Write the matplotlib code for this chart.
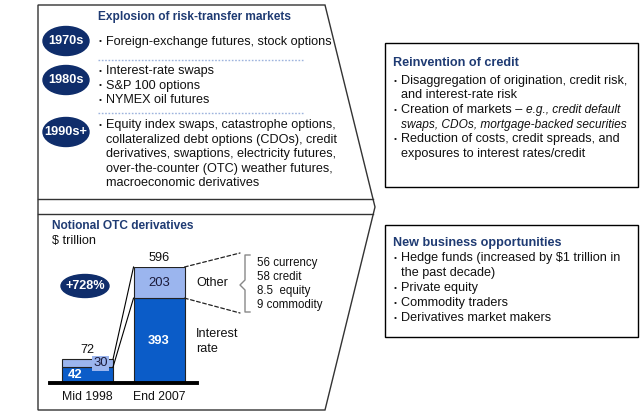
"""Risk-transfer markets infographic with notional OTC derivatives bar chart."""
import numpy as np
import matplotlib

matplotlib.use("Agg")
import matplotlib.pyplot as plt
from matplotlib.patches import ConnectionPatch, Ellipse, Polygon, Rectangle

plt.rcParams["font.family"] = ["Liberation Sans", "DejaVu Sans"]
FS = 9.1          # body text
FS_ITALIC = 8.6   # italic examples
FS_SMALL = 8.3    # breakdown list
FS_TITLE_L = 8.6  # left panel titles
FS_TITLE_R = 9.1  # right box titles

NAVY = "#0F2D6B"
TITLE = "#1F3B73"
DARK_BLUE = "#0B5CC8"
LIGHT_BLUE = "#9BB5EE"
TEXT = "#111111"

# --- data -------------------------------------------------------------------
PERIODS = ["Mid 1998", "End 2007"]
INTEREST_RATE = [42, 393]
OTHER = [30, 203]
TOTALS = [72, 596]
GROWTH = "+728%"
OTHER_BREAKDOWN = ["56 currency", "58 credit", "8.5  equity", "9 commodity"]

ERA_LABELS = ["1970s", "1980s", "1990s+"]
ERA_ITEMS = [
    [["Foreign-exchange futures, stock options"]],
    [["Interest-rate swaps"], ["S&P 100 options"], ["NYMEX oil futures"]],
    [[
        "Equity index swaps, catastrophe options,",
        "collateralized debt options (CDOs), credit",
        "derivatives, swaptions, electricity futures,",
        "over-the-counter (OTC) weather futures,",
        "macroeconomic derivatives",
    ]],
]

CREDIT_TITLE = "Reinvention of credit"
CREDIT_ITEMS = [
    ["Disaggregation of origination, credit risk,", "and interest-rate risk"],
    [("Creation of markets \u2013 ", "e.g., credit default"), "swaps, CDOs, mortgage-backed securities"],
    ["Reduction of costs, credit spreads, and", "exposures to interest rates/credit"],
]

BUSINESS_TITLE = "New business opportunities"
BUSINESS_ITEMS = [
    ["Hedge funds (increased by \\$1 trillion in", "the past decade)"],
    ["Private equity"],
    ["Commodity traders"],
    ["Derivatives market makers"],
]

fig = plt.figure(figsize=(6.4, 4.15), dpi=100)
ov = fig.add_axes([0, 0, 1, 1])
ov.set_xlim(0, 640)
ov.set_ylim(415, 0)
ov.axis("off")


def txt(x, y, s, **kw):
    kw.setdefault("fontsize", FS)
    kw.setdefault("color", TEXT)
    kw.setdefault("va", "center")
    return ov.text(x, y, s, **kw)


def bullet_block(x, y, items, step=14.5):
    """Draw bulleted items; wrapped lines indented under the first."""
    for item in items:
        ov.text(x, y, "\u2022", fontsize=6, color=TEXT, va="center")
        for j, line in enumerate(item):
            if isinstance(line, tuple):
                t1 = txt(x + 7, y + 6, line[0], va="bottom")
                ov.annotate(line[1], xy=(1, 0), xycoords=t1, fontsize=FS_ITALIC,
                            color=TEXT, style="italic", va="bottom", ha="left")
            elif j == 1 and isinstance(item[0], tuple):
                txt(x + 7, y, line, style="italic", fontsize=FS_ITALIC)
            else:
                txt(x + 7, y, line)
            y += step
    return y


# --- left chevron frame ------------------------------------------------------
ov.add_patch(Polygon([(38, 5), (325, 5), (375, 207), (325, 410), (38, 410)],
                     closed=True, fill=False, ec="#333333", lw=1))
ov.plot([38, 373], [199, 199], color="#333333", lw=1)
ov.plot([38, 373], [214, 214], color="#333333", lw=1)

txt(98, 17, "Explosion of risk-transfer markets", color=TITLE, weight="bold",
    fontsize=FS_TITLE_L)
era_y = [42, 71, 125]
oval_y = [41, 80, 132]
for label, items, y0, oy in zip(ERA_LABELS, ERA_ITEMS, era_y, oval_y):
    ov.add_patch(Ellipse((66, oy), 46, 29, color=NAVY))
    txt(66, oy, label, color="white", weight="bold", ha="center", fontsize=9.2)
    bullet_block(99, y0, items)
for y in (60, 113):
    ov.plot([98, 303], [y, y], color="#9DB3DD", lw=1, ls=(0, (1.2, 1.2)))

# --- right boxes -------------------------------------------------------------
ov.add_patch(Rectangle((385, 43), 253, 144, fill=False, ec="black", lw=1))
txt(393, 63, CREDIT_TITLE, color=TITLE, weight="bold", fontsize=FS_TITLE_R)
bullet_block(394, 81, CREDIT_ITEMS)

ov.add_patch(Rectangle((385, 225), 253, 112, fill=False, ec="black", lw=1))
txt(393, 243, BUSINESS_TITLE, color=TITLE, weight="bold", fontsize=FS_TITLE_R)
bullet_block(394, 258, BUSINESS_ITEMS, step=15)

# --- bar chart panel ---------------------------------------------------------
txt(52, 226, "Notional OTC derivatives", color=TITLE, weight="bold", fontsize=FS_TITLE_L)
txt(52, 241, "\\$ trillion")
ov.add_patch(Ellipse((85, 286), 48, 23, color=NAVY))
txt(85, 286, GROWTH, color="white", weight="bold", ha="center")

ax = fig.add_axes([50 / 640, (415 - 383) / 415, 147 / 640, 116 / 415])
ax.patch.set_visible(False)
ax.set_yscale("function", functions=(lambda v: np.sign(v) * np.abs(v) ** 0.75,
                                     lambda v: np.sign(v) * np.abs(v) ** (4 / 3)))
x = np.arange(len(PERIODS))
w = 0.713
ax.bar(x, INTEREST_RATE, width=w, color=DARK_BLUE, edgecolor="#222222", lw=0.8)
ax.bar(x, OTHER, bottom=INTEREST_RATE, width=w, color=LIGHT_BLUE, edgecolor="#222222", lw=0.8)
ax.set_xlim(-0.5245, 1.531)
ax.set_ylim(0, TOTALS[1])
ax.axhline(0, color="black", lw=2.8, clip_on=False)
for s in ax.spines.values():
    s.set_visible(False)
ax.yaxis.set_visible(False)
ax.set_xticks(x, PERIODS)
ax.tick_params(axis="x", length=0, pad=5.5, labelsize=8.8, labelcolor=TEXT)


def mid(a, b):
    return ((a ** 0.75 + b ** 0.75) / 2) ** (4 / 3)


for i in x:
    ax.annotate(str(TOTALS[i]), (i, TOTALS[i]), xytext=(0, 3), textcoords="offset pixels",
                ha="center", va="bottom", fontsize=FS, color=TEXT, annotation_clip=False)

# Mid 1998 segment labels (offset because the bar is short)
ax.annotate(str(INTEREST_RATE[0]), (0, mid(0, INTEREST_RATE[0])), xytext=(-12, 0),
            textcoords="offset pixels", ha="center", va="center", fontsize=FS + 0.3,
            color="white", weight="bold")
ax.annotate(str(OTHER[0]), (0, mid(INTEREST_RATE[0], TOTALS[0])), xytext=(13, 0),
            textcoords="offset pixels", ha="center", va="center", fontsize=FS + 0.3,
            color="#1A1A3A", bbox=dict(boxstyle="square,pad=0.12", fc=LIGHT_BLUE, ec="none"))
# End 2007 segment labels
ax.text(1, mid(0, INTEREST_RATE[1]), str(INTEREST_RATE[1]), ha="center", va="center",
        fontsize=FS + 0.3, color="white", weight="bold")
ax.text(1, mid(INTEREST_RATE[1], TOTALS[1]), str(OTHER[1]), ha="center", va="center",
        fontsize=FS + 0.3, color="#1A1A3A")

# growth connectors between the bars
for a, b in ((TOTALS[0], TOTALS[1]), (INTEREST_RATE[0], INTEREST_RATE[1])):
    ax.plot([w / 2, 1 - w / 2], [a, b], color="black", lw=0.8, clip_on=False)

# dashed call-out to the "Other" breakdown
for yv, py in ((TOTALS[1], 253), (INTEREST_RATE[1], 313)):
    fig.add_artist(ConnectionPatch(xyA=(1 + w / 2, yv), coordsA=ax.transData,
                                   xyB=(240, py), coordsB=ov.transData,
                                   ls=(0, (3, 2)), color="#222222", lw=0.9))

txt(196, 283, "Other")
txt(196, 334, "Interest")
txt(196, 349, "rate")

ov.plot([250, 245, 245, 240, 245, 245, 250],
        [255, 255, 280, 285, 290, 312, 312], color="#888888", lw=1)
for k, line in enumerate(OTHER_BREAKDOWN):
    txt(257, 263 + 14 * k, line, fontsize=FS_SMALL)

fig.savefig("out.png", dpi=100)
